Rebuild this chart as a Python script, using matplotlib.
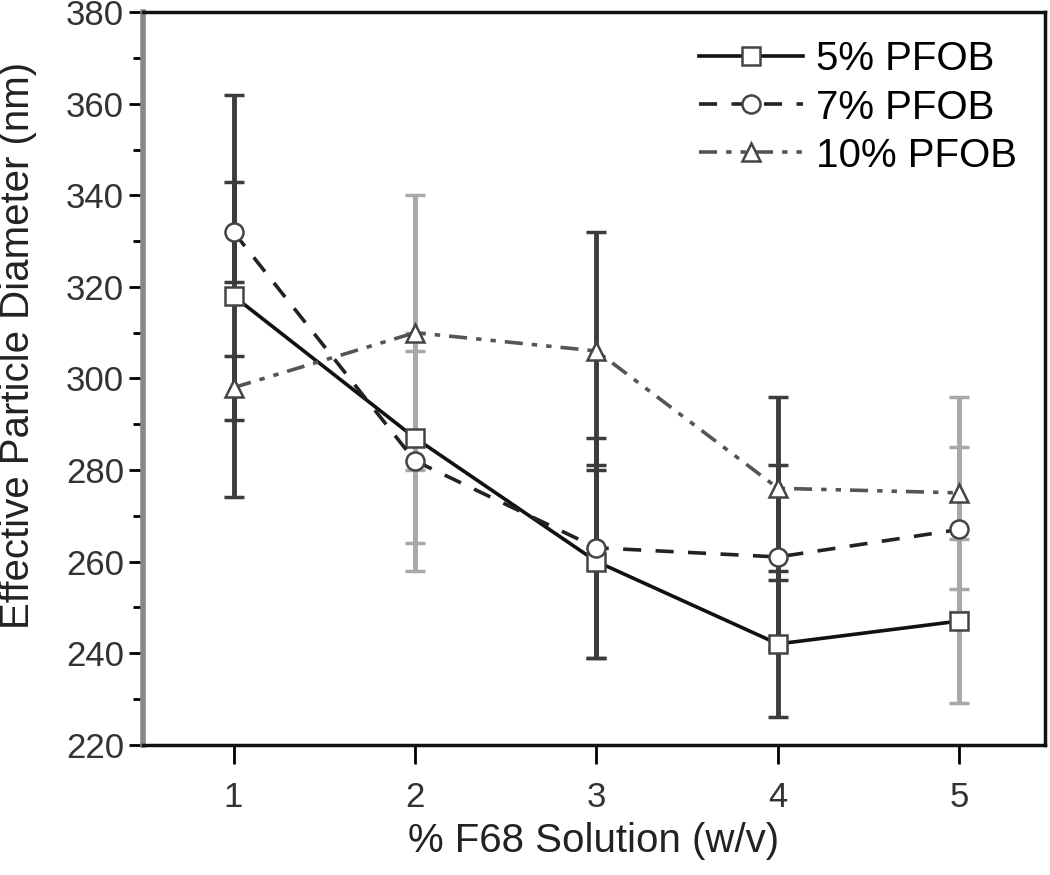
import matplotlib.pyplot as plt
import numpy as np
from matplotlib.ticker import MultipleLocator

plt.rcParams['font.family'] = ['Liberation Sans', 'DejaVu Sans']

f68 = [1, 2, 3, 4, 5]
pfob5 = [318, 287, 260, 242, 247]
pfob7 = [332, 282, 263, 261, 267]
pfob10 = [298, 310, 306, 276, 275]
err5 = [44, 23, 21, 16, 18]
err7 = [11, 24, 24, 20, 18]
err10 = [7, 30, 26, 20, 21]
labels = ['5% PFOB', '7% PFOB', '10% PFOB']

# error bar shade per x position (as in the scanned figure)
bar_col = ['#3c3c3c', '#a8a8a8', '#3c3c3c', '#3c3c3c', '#a8a8a8']

fig = plt.figure(figsize=(10.5, 8.75), dpi=100)
ax = fig.add_axes([0.136, 0.149, 0.859, 0.837])

series = [(pfob5, err5, 's', '-', '#111111'),
          (pfob7, err7, 'o', (0, (5, 4)), '#222222'),
          (pfob10, err10, '^', (0, (5, 2.5, 1.5, 2.5, 1.5, 2.5)), '#555555')]

for vals, errs, mk, ls, c in series:
    for i in range(len(f68)):
        ax.errorbar(f68[i], vals[i], yerr=errs[i], fmt='none', ecolor=bar_col[i],
                    elinewidth=3.5, capsize=7, capthick=2.5, zorder=2)

for (vals, errs, mk, ls, c), lab in zip(series, labels):
    ax.plot(f68, vals, linestyle=ls, color=c, lw=2.6, marker=mk, ms=13,
            mfc='white', mec='#444444', mew=1.8, label=lab, zorder=3)

ax.set_xlim(0.5, 5.47)
ax.set_ylim(220, 380)
ax.set_xticks(f68)
ax.yaxis.set_major_locator(MultipleLocator(20))
ax.yaxis.set_minor_locator(MultipleLocator(10))
ax.tick_params(axis='both', direction='out', labelsize=25, labelcolor='#333333')
ax.tick_params(axis='y', which='major', length=10, width=2)
ax.tick_params(axis='y', which='minor', length=7, width=2)
ax.tick_params(axis='x', length=14, width=2, pad=12)

for s in ['top', 'right', 'bottom']:
    ax.spines[s].set_linewidth(2.5)
    ax.spines[s].set_color('#111111')
ax.spines['left'].set_linewidth(4)
ax.spines['left'].set_color('#888888')

ax.set_xlabel('% F68 Solution (w/v)', fontsize=29, labelpad=6, color='#222222')
ax.set_ylabel('Effective Particle Diameter (nm)', fontsize=29, color='#222222')
ax.yaxis.set_label_coords(-0.117, 0.545)

ax.legend(loc='upper right', frameon=False, fontsize=29, handlelength=2.6,
          handletextpad=0.3, labelspacing=0.25, borderaxespad=0.3)

fig.savefig('out.png', dpi=100)
